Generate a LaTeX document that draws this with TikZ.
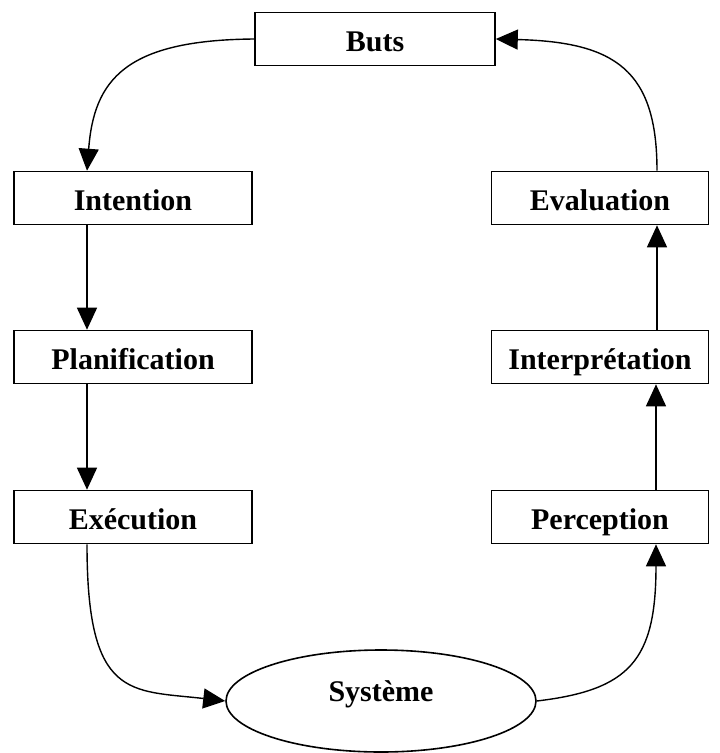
\documentclass[tikz,border=0pt]{standalone}
\usepackage{fontspec}
\setmainfont{Liberation Serif}
\usetikzlibrary{arrows.meta,shapes.geometric}

\begin{document}
\begin{tikzpicture}[x=1pt, y=-1pt,
    every node/.style = {font=\bfseries\fontsize{30}{32}\selectfont},
    box/.style = {shape=rectangle, draw, line width=1.6pt, minimum height=53pt, inner sep=0pt,
      text height=30pt, text depth=6pt},
    arr/.style = {line width=1.4pt, -{Triangle[length=22pt, width=20pt]}}]
    \useasboundingbox (0,0) rectangle (720,753);
    % left column
    \node[box, minimum width=240pt] (buts) at (375,39) {Buts};
    \node[box, minimum width=238pt] (intention) at (133,198) {Intention};
    \node[box, minimum width=238pt] (planif) at (133,357) {Planification};
    \node[box, minimum width=238pt] (exec) at (133,517) {Exécution};
    % right column
    \node[box, minimum width=217pt] (eval) at (600,198) {Evaluation};
    \node[box, minimum width=217pt] (interp) at (600,357) {Interprétation};
    \node[box, minimum width=217pt] (percep) at (600,517) {Perception};
    \node[shape=ellipse, draw, line width=1.6pt, minimum width=310pt, minimum height=102pt, inner sep=0pt,
      text height=12pt, text depth=12pt] (systeme) at (381,701) {Système};

    \draw[arr] (buts.west) .. controls (125,40) and (94,80) .. ([xshift=-46pt]intention.north);
    \draw[arr] ([xshift=-46pt]intention.south) -- ([xshift=-46pt]planif.north);
    \draw[arr] ([xshift=-46pt]planif.south) -- ([xshift=-46pt]exec.north);
    \draw[arr] ([xshift=-46pt]exec.south) .. controls (87,700) and (130,690) .. (systeme.west);
    \draw[arr] (systeme.east) .. controls (630,690) and (656,660) .. ([xshift=56pt]percep.south);
    \draw[arr] ([xshift=56pt]percep.north) -- ([xshift=56pt]interp.south);
    \draw[arr] ([xshift=57pt]interp.north) -- ([xshift=57pt]eval.south);
    \draw[arr] ([xshift=57pt]eval.north) .. controls (657,70) and (615,42) .. (buts.east);
\end{tikzpicture}
\end{document}
